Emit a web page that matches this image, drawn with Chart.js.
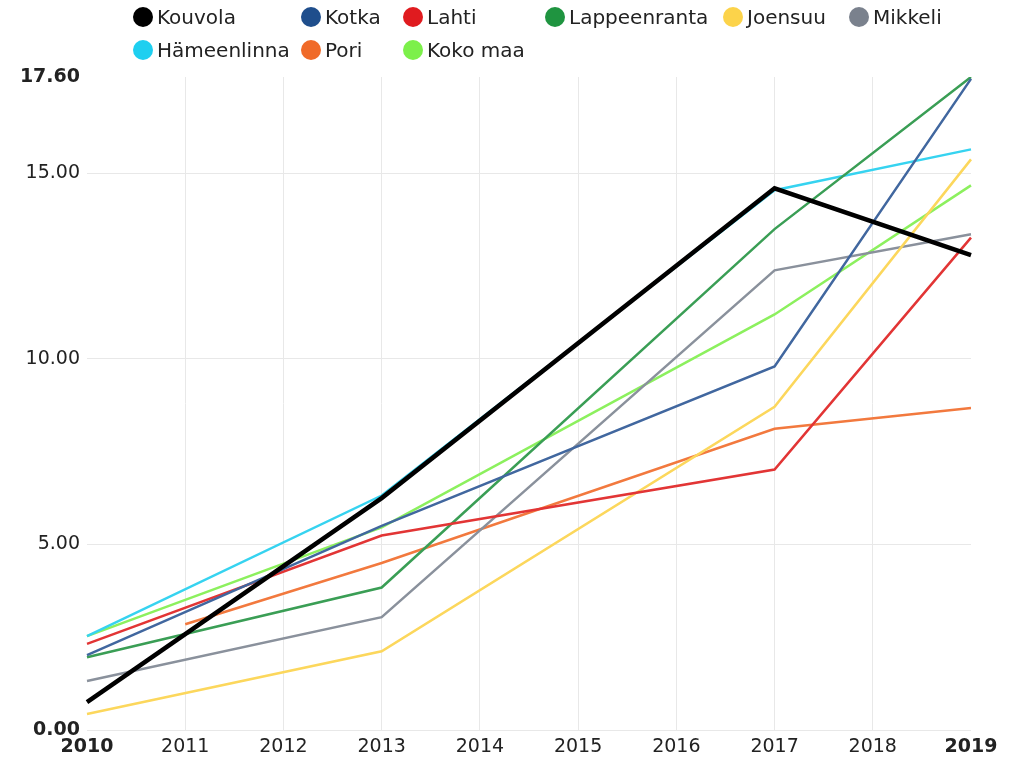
<!DOCTYPE html>
<html>
<head>
<meta charset="utf-8">
<script src="https://cdn.jsdelivr.net/npm/chart.js@4/dist/chart.umd.min.js"></script>
<style>
  body { margin: 0; background: #fff; }
  #wrap { position: relative; width: 1020px; height: 759px; }
  #chart { position: absolute; left: 0; top: 0; }
  #legend {
    position: absolute; left: 133px; top: 6px;
    display: grid;
    grid-template-columns: 168px 102px 142px 178px 126px auto;
    row-gap: 11px;
    font-family: "DejaVu Sans", sans-serif; font-size: 20px; color: #222;
  }
  .item { display: flex; align-items: center; height: 22px; white-space: nowrap; }
  .dot { width: 20px; height: 20px; border-radius: 50%; margin-right: 4px; flex: none; }
</style>
</head>
<body>
<div id="wrap">
  <canvas id="chart" width="1020" height="759"></canvas>
  <div id="legend"></div>
</div>
<script>
const years = ['2010', '2011', '2012', '2013', '2014', '2015', '2016', '2017', '2018', '2019'];
const yTicks = [0, 5, 10, 15, 17.6];

const kouvola = [0.75, null, null, 6.25, null, null, null, 14.6, null, 12.8];
const kotka = [2.02, null, null, 5.5, null, null, null, 9.8, null, 17.55];
const lahti = [2.32, null, null, 5.24, null, null, null, 7.02, null, 13.27];
const lappeenranta = [1.96, null, null, 3.84, null, null, null, 13.5, null, 17.6];
const joensuu = [0.43, null, null, 2.12, null, null, null, 8.71, null, 15.38];
const mikkeli = [1.32, null, null, 3.04, null, null, null, 12.39, null, 13.36];
const hameenlinna = [2.53, null, null, 6.32, null, null, null, 14.55, null, 15.65];
const pori = [null, 2.85, null, 4.5, null, null, null, 8.12, null, 8.68];
const kokoMaa = [2.53, null, null, 5.46, null, null, null, 11.2, null, 14.68];

const series = [
  { label: 'Kouvola', data: kouvola, color: '#000000', line: '#000000', width: 4.5 },
  { label: 'Kotka', data: kotka, color: '#1f4e8c', line: '#41679f', width: 2.5 },
  { label: 'Lahti', data: lahti, color: '#e01b1f', line: '#e23535', width: 2.5 },
  { label: 'Lappeenranta', data: lappeenranta, color: '#1f9440', line: '#3a9e55', width: 2.5 },
  { label: 'Joensuu', data: joensuu, color: '#fcd34a', line: '#fcd75c', width: 2.5 },
  { label: 'Mikkeli', data: mikkeli, color: '#7a818d', line: '#8a919c', width: 2.5 },
  { label: 'Hämeenlinna', data: hameenlinna, color: '#1ecff0', line: '#36d3f0', width: 2.5 },
  { label: 'Pori', data: pori, color: '#f06a28', line: '#f2793e', width: 2.5 },
  { label: 'Koko maa', data: kokoMaa, color: '#7cf04a', line: '#8cf05e', width: 2.5 },
];

// html legend, laid out in columns like the original
const legend = document.getElementById('legend');
series.forEach((s) => {
  const item = document.createElement('div');
  item.className = 'item';
  item.innerHTML = '<span class="dot" style="background:' + s.color + '"></span>' + s.label;
  legend.appendChild(item);
});

const tickFont = (bold) => ({ family: 'DejaVu Sans', size: 19, weight: bold ? 'bold' : 'normal' });

new Chart(document.getElementById('chart'), {
  type: 'line',
  data: {
    labels: years,
    datasets: series.map((s) => ({
      label: s.label,
      data: s.data,
      borderColor: s.line,
      backgroundColor: s.color,
      borderWidth: s.width,
      pointRadius: 0,
      tension: 0,
      spanGaps: true,
    })),
  },
  options: {
    responsive: false,
    animation: false,
    layout: { padding: { top: 77, right: 49, left: 0, bottom: 0 } },
    plugins: {
      legend: { display: false },
      tooltip: { enabled: false },
    },
    scales: {
      x: {
        offset: false,
        border: { display: false },
        grid: {
          color: (ctx) => (ctx.index === 0 || ctx.index === years.length - 1 ? 'rgba(0,0,0,0)' : '#e8e8e8'),
          drawTicks: false,
        },
        ticks: {
          color: '#222',
          padding: 6,
          maxRotation: 0,
          font: (ctx) => tickFont(ctx.index === 0 || ctx.index === years.length - 1),
        },
        afterFit: (scale) => { scale.height = 29; },
      },
      y: {
        min: 0,
        max: 17.6,
        border: { display: false },
        afterBuildTicks: (scale) => { scale.ticks = yTicks.map((v) => ({ value: v })); },
        grid: {
          color: (ctx) => (ctx.tick && ctx.tick.value === 17.6 ? 'rgba(0,0,0,0)' : '#e8e8e8'),
          drawTicks: false,
        },
        ticks: {
          color: '#222',
          padding: 7,
          callback: (v) => Number(v).toFixed(2),
          font: (ctx) => tickFont(ctx.tick && (ctx.tick.value === 0 || ctx.tick.value === 17.6)),
        },
        afterFit: (scale) => { scale.width = 87; },
      },
    },
  },
});
</script>
</body>
</html>
